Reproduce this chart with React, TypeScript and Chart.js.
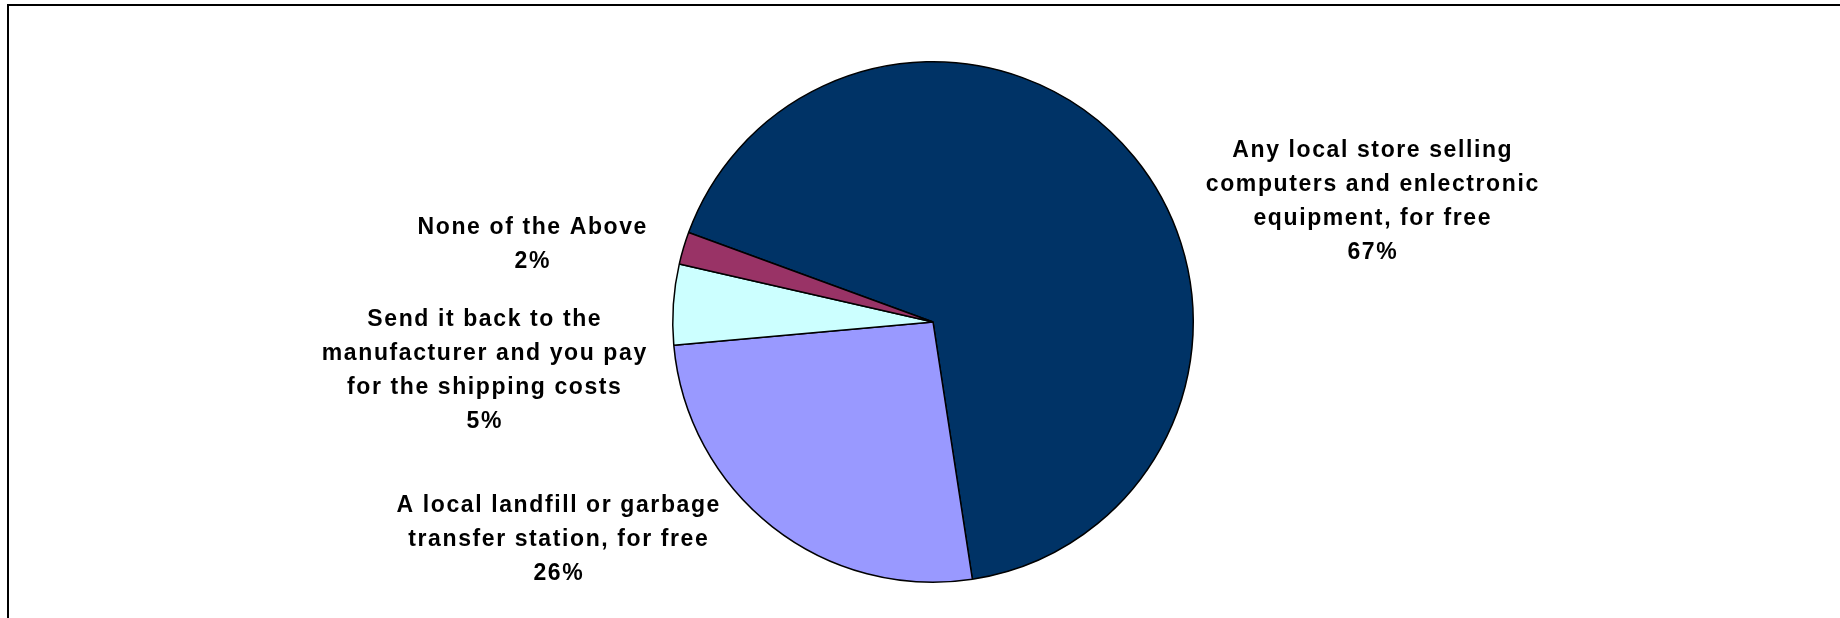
import React, { useEffect, useRef } from "react";
import { Chart, registerables } from "chart.js";

Chart.register(...registerables);

const categories: string[][] = [
  ["Any local store selling", "computers and enlectronic", "equipment, for free"],
  ["A local landfill or garbage", "transfer station, for free"],
  ["Send it back to the", "manufacturer and you pay", "for the shipping costs"],
  ["None of the Above"],
];
const values: number[] = [67, 26, 5, 2];
const colors: string[] = ["#003366", "#9999FF", "#CCFFFF", "#993366"];

// label block anchors (center x, first baseline y) in canvas pixels
const labelAnchors: [number, number][] = [
  [1372, 157],
  [558, 512],
  [484, 326],
  [532, 234],
];

const W = 1840;
const H = 618;

const labelPlugin = {
  id: "excelLabels",
  beforeDraw(chart: any) {
    const ctx = chart.ctx;
    ctx.save();
    ctx.fillStyle = "#ffffff";
    ctx.fillRect(0, 0, chart.width, chart.height);
    ctx.restore();
  },
  afterDraw(chart: any) {
    const ctx = chart.ctx;
    ctx.save();
    // frame
    ctx.fillStyle = "#000000";
    ctx.fillRect(7, 4, chart.width - 7, 2);
    ctx.fillRect(7, 4, 2, chart.height - 4);
    // labels
    ctx.font = "bold 23px 'Liberation Sans', Arial, sans-serif";
    (ctx as any).letterSpacing = "1.6px";
    ctx.textAlign = "center";
    ctx.textBaseline = "alphabetic";
    ctx.fillStyle = "#000000";
    const lineH = 34;
    categories.forEach((lines, i) => {
      const [cx, y0] = labelAnchors[i];
      const all = [...lines, `${values[i]}%`];
      all.forEach((t, j) => {
        ctx.fillText(t, cx + 0.8, y0 + j * lineH);
      });
    });
    ctx.restore();
  },
};

export default function App() {
  const ref = useRef<HTMLCanvasElement | null>(null);
  useEffect(() => {
    document.body.style.margin = "0";
    const canvas = ref.current!;
    const chart = new Chart(canvas, {
      type: "pie",
      data: {
        labels: categories.map((c) => c.join(" ")),
        datasets: [
          {
            data: values,
            backgroundColor: colors,
            borderColor: "#000000",
            borderWidth: 1.5,
          },
        ],
      },
      options: {
        responsive: false,
        animation: false,
        rotation: 290.1,
        layout: { padding: { left: 26, right: 0, top: 61, bottom: 35 } },
        plugins: {
          legend: { display: false },
          tooltip: { enabled: false },
        },
      },
      plugins: [labelPlugin],
    });
    return () => chart.destroy();
  }, []);
  return (
    <div style={{ position: "absolute", left: 0, top: 0, width: W, height: H }}>
      <canvas ref={ref} width={W} height={H} style={{ width: W, height: H, display: "block" }} />
    </div>
  );
}
